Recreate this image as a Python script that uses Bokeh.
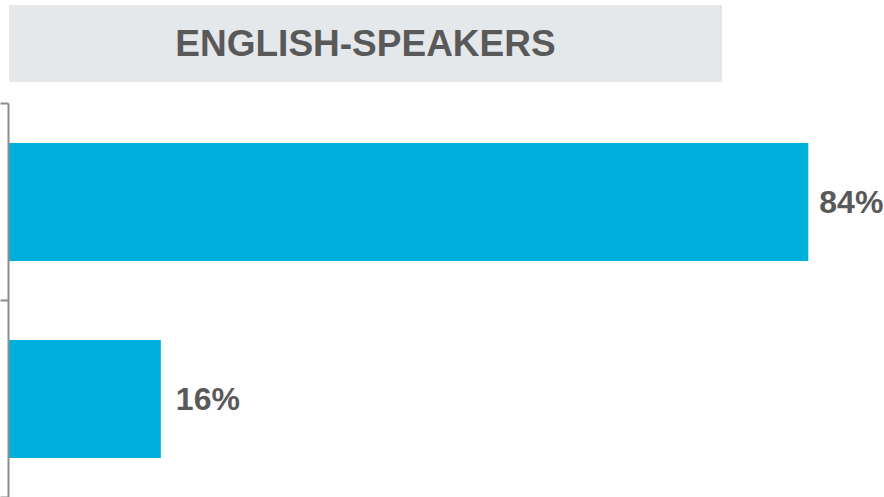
from bokeh.plotting import figure
from bokeh.models import (ColumnDataSource, Range1d, LinearAxis,
                          FixedTicker, Div, Column)
from bokeh.core.properties import value
from bokeh.embed import file_html
from bokeh.resources import INLINE

# ---- data ----
title_text = "ENGLISH-SPEAKERS"
categories = ["English", "Other"]
values = [84, 16]
labels = ["84%", "16%"]

# ---- styling ----
BAR = "#00b0dc"
TXT = "#595959"
TITLE_BG = "#e5e8eb"
AXIS = "#8c8c8c"
label_offsets = [11, 15]

n = len(categories)
slot = [n - i - 0.5 for i in range(n)]  # category slot centre, top to bottom
src = ColumnDataSource(dict(cat=categories, pos=slot, val=values, lab=labels, off=label_offsets))

p = figure(width=884, height=415, output_backend="svg", toolbar_location=None,
           y_range=Range1d(0, n), x_range=Range1d(0, 92),
           x_axis_location=None, y_axis_location=None,
           min_border_left=0, min_border_right=0, min_border_top=21, min_border_bottom=0)
p.outline_line_color = None
p.xgrid.visible = False
p.ygrid.visible = False
p.background_fill_color = "white"
p.border_fill_color = "white"

ticks = list(range(n + 1))
ax = LinearAxis(ticker=FixedTicker(ticks=ticks),
                major_label_overrides={t: "" for t in ticks}, major_label_standoff=0,
                major_tick_in=0, major_tick_out=8, minor_tick_line_color=None,
                axis_line_color=AXIS, axis_line_width=2,
                major_tick_line_color=AXIS, major_tick_line_width=2)
p.add_layout(ax, "left")

p.hbar(y="pos", right="val", left=0, height=0.6, source=src, color=BAR, line_color=None)
p.text(x="val", y="pos", text="lab", x_offset="off", source=src,
       text_baseline="middle", text_align="left", text_color=TXT,
       text_font=value("Liberation Sans"), text_font_style="bold",
       text_font_size="32px")

title = Div(text=title_text, width=713, height=77, margin=(5, 0, 0, 9),
            styles={"background-color": TITLE_BG, "color": TXT,
                    "font-family": "'Liberation Sans', Arial, sans-serif",
                    "font-weight": "bold", "font-size": "37px",
                    "text-align": "center", "line-height": "77px"})

layout = Column(title, p, spacing=0)

open("out.html", "w").write(file_html(layout, INLINE))
